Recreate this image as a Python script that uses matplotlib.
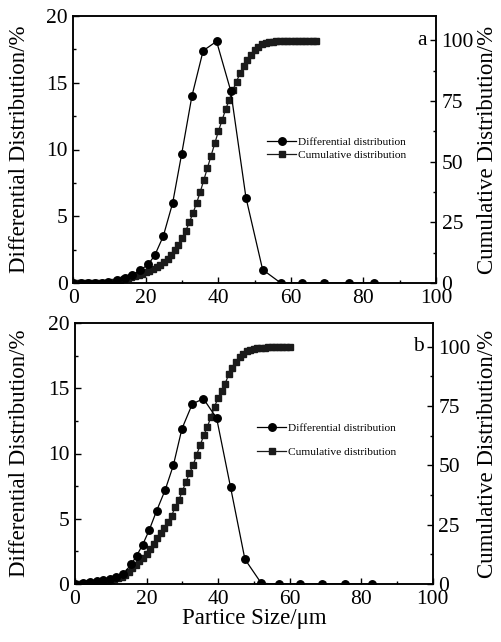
import numpy as np
import matplotlib
matplotlib.use('Agg')
import matplotlib.pyplot as plt
from matplotlib.ticker import MultipleLocator

plt.rcParams['font.family'] = ['Liberation Serif', 'DejaVu Serif']

# panel a - differential distribution (circles)
diff_a_x = [0, 2, 4, 6, 8, 9.7, 12, 14.2, 16.1, 18.4, 20.7, 22.5, 24.8, 27.4, 29.9,
            32.7, 35.8, 39.5, 43.4, 47.6, 52.2, 57.2, 63.1, 69.1, 75.9, 83.0]
diff_a_y = [0, 0, 0, 0, 0, 0.07, 0.2, 0.4, 0.6, 0.95, 1.4, 2.1, 3.5, 6.0, 9.7,
            14.0, 17.4, 18.1, 14.4, 6.4, 1.0, 0, 0, 0, 0, 0]

# panel a - cumulative distribution (squares)
cum_a_x = list(range(0, 68))
cum_a_y = [0, 0, 0, 0, 0, 0, 0, 0, 0, 0, 0.1,
           0.5, 0.8, 1.2, 1.6, 2.0, 2.4, 2.8, 3.3, 3.8, 4.4,
           5.0, 5.7, 6.5, 7.4, 8.5, 9.9, 11.6, 13.6, 15.8, 18.5,
           21.5, 25.0, 28.8, 33.0, 37.5, 42.5, 47.5, 52.5, 57.5, 62.5,
           67.0, 71.5, 75.5, 79.5, 83.0, 86.5, 89.5, 92.0, 94.0, 96.0,
           97.4, 98.4, 99.0, 99.3, 99.4, 99.5, 99.5, 99.5, 99.5, 99.5,
           99.5, 99.5, 99.5, 99.5, 99.5, 99.5, 99.5]

# panel b - differential distribution (circles)
diff_b_x = [0, 2.3, 4.2, 6.1, 7.9, 9.8, 11.6, 13.5, 15.7, 17.2, 18.9, 20.7, 22.8, 25.2,
            27.5, 29.9, 32.8, 35.9, 39.6, 43.5, 47.5, 52.1, 57.1, 62.9, 69.0, 75.6, 83.0]
diff_b_y = [0, 0.1, 0.18, 0.23, 0.3, 0.38, 0.5, 0.77, 1.5, 2.15, 3.0, 4.1, 5.6, 7.2,
            9.1, 11.9, 13.8, 14.2, 12.7, 7.4, 1.9, 0.05, 0, 0, 0, 0, 0]

# panel b - cumulative distribution (squares)
cum_b_x = list(range(0, 61))
cum_b_y = [0, 0.05, 0.1, 0.2, 0.3, 0.4, 0.6, 0.8, 1.0, 1.3, 1.6,
           2.0, 2.5, 3.1, 4.0, 5.2, 6.7, 8.0, 9.5, 10.9, 12.8,
           14.8, 16.9, 19.2, 21.6, 23.6, 26.3, 28.8, 32.3, 35.3, 39.1,
           43.0, 46.6, 50.0, 54.4, 58.6, 62.6, 66.3, 70.3, 74.8, 78.3,
           81.5, 84.5, 88.5, 91.0, 93.6, 95.7, 97.1, 98.2, 98.8, 99.2,
           99.5, 99.6, 99.6, 99.7, 99.7, 99.7, 99.7, 99.7, 99.7, 99.7]

panels = [
    dict(rect=[73.3, 16, 436, 283], diff=(diff_a_x, diff_a_y), cum=(cum_a_x, cum_a_y),
         tag='a', leg_anchor=(0.535, 0.503), leg_space=0.3, xlabel=False),
    dict(rect=[75, 323, 432.7, 584], diff=(diff_b_x, diff_b_y), cum=(cum_b_x, cum_b_y),
         tag='b', leg_anchor=(0.51, 0.552), leg_space=1.25, xlabel=True),
]

W, H = 501, 642
fig = plt.figure(figsize=(W / 100, H / 100), dpi=100)

FS = 15.5   # tick labels
LFS = 16.5  # axis labels
for p in panels:
    x0, y0, x1, y1 = p['rect']
    ax = fig.add_axes([x0 / W, 1 - y1 / H, (x1 - x0) / W, (y1 - y0) / H])
    ax2 = ax.twinx()

    l1, = ax.plot(*p['diff'], color='black', lw=0.9, marker='o', ms=5.4,
                  label='Differential distribution', zorder=3)
    l2, = ax2.plot(*p['cum'], color='#1a1a1a', lw=0.9, marker='s', ms=4.4,
                   label='Cumulative distribution')

    ax.set_xlim(0, 100)
    ax.set_ylim(0, 20)
    ax2.set_ylim(0, 110)
    ax.xaxis.set_major_locator(MultipleLocator(20))
    ax.xaxis.set_minor_locator(MultipleLocator(10))
    ax.yaxis.set_major_locator(MultipleLocator(5))
    ax.yaxis.set_minor_locator(MultipleLocator(2.5))
    ax2.set_yticks([0, 25, 50, 75, 100])
    ax2.yaxis.set_minor_locator(MultipleLocator(12.5))

    for a in (ax, ax2):
        a.tick_params(which='major', direction='in', length=4, width=1, labelsize=FS, pad=4)
        a.tick_params(which='minor', direction='in', length=2.5, width=1)
        for s in a.spines.values():
            s.set_linewidth(1.1)
    ax.tick_params(axis='y', right=False)
    ax.set_zorder(ax2.get_zorder() + 1)
    ax.patch.set_visible(False)

    w = x1 - x0
    h = y1 - y0
    ax.set_ylabel('Differential Distribution/%', fontsize=LFS)
    ax.yaxis.set_label_coords((30 - x0) / w, 0.5)
    ax2.set_ylabel('Cumulative Distribution/%', fontsize=LFS)
    ax2.yaxis.set_label_coords((477 - x0) / w, 0.5)
    if p['xlabel']:
        ax.set_xlabel('Partice Size/μm', fontsize=LFS)
        ax.xaxis.set_label_coords(0.5, (y1 - 608) / h)

    ax.text(0.975, 100 / 110, p['tag'], transform=ax.transAxes, fontsize=FS,
            ha='right', va='center')

    ax.legend([l1, l2], [l1.get_label(), l2.get_label()], loc='center left',
              bbox_to_anchor=p['leg_anchor'], frameon=False, fontsize=8.2,
              handlelength=2.5, handletextpad=0.2, labelspacing=p['leg_space'],
              borderpad=0, borderaxespad=0)

fig.savefig('out.png', dpi=100)
